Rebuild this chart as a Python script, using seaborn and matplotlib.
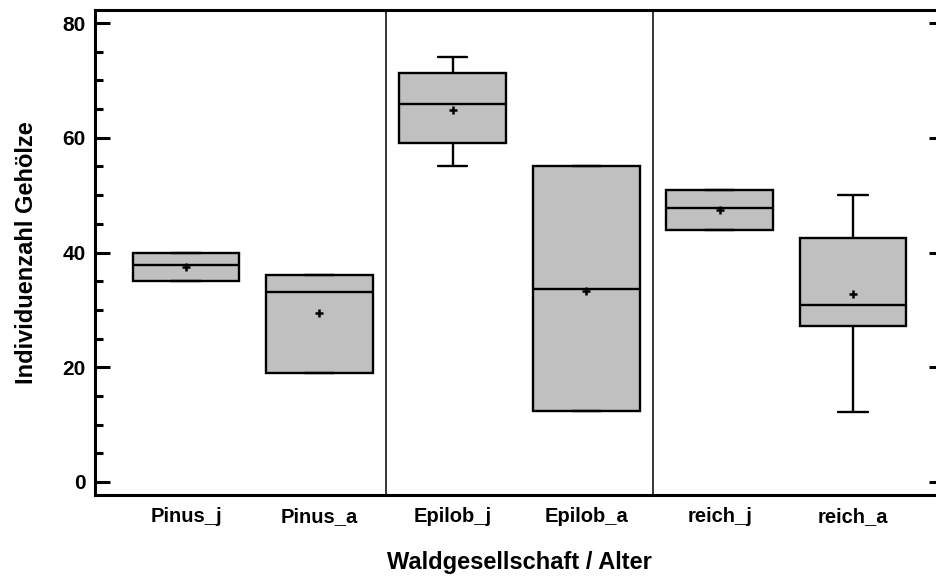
import numpy as np
import pandas as pd
import matplotlib
matplotlib.use('Agg')
import matplotlib.pyplot as plt
import matplotlib.ticker as ticker
import seaborn as sns

groups = ['Pinus_j', 'Pinus_a', 'Epilob_j', 'Epilob_a', 'reich_j', 'reich_a']
mins = [35, 19, 55, 12.3, 44, 12.2]
q1s = [35, 19, 59, 12.3, 44, 27.2]
medians = [37.8, 33.2, 65.9, 33.6, 47.7, 30.9]
q3s = [40, 36, 71.3, 55, 50.9, 42.6]
maxs = [40, 36, 74, 55, 50.9, 50]
means = [37.5, 29.4, 64.8, 33.3, 47.4, 32.7]

# five summary numbers per group -> quartiles come out exactly with linear percentiles
rows = []
for g, a, b, c, d, e in zip(groups, mins, q1s, medians, q3s, maxs):
    for v in (a, b, c, d, e):
        rows.append({'group': g, 'value': v})
df = pd.DataFrame(rows)
mean_df = pd.DataFrame({'group': groups, 'mean': means})

sns.set_style('white')
plt.rcParams['font.family'] = ['Liberation Sans', 'DejaVu Sans']
plt.rcParams['font.weight'] = 'bold'
for key in ('text.color', 'axes.labelcolor', 'xtick.color', 'ytick.color'):
    plt.rcParams[key] = 'black'

fig = plt.figure(figsize=(9.36, 5.77), dpi=100)
ax = fig.add_axes([95 / 936, 82 / 577, 849 / 936, 485 / 577])

sns.boxplot(data=df, x='group', y='value', order=groups, whis=np.inf,
            width=0.8, color='#c0c0c0', saturation=1, linecolor='black',
            linewidth=1.7, showfliers=False, capwidths=0.22, ax=ax)
sns.pointplot(data=mean_df, x='group', y='mean', order=groups, linestyle='none',
              markers='+', color='black', errorbar=None, markersize=5.5,
              markeredgewidth=1.8, ax=ax)

for xs in (1.5, 3.5):
    ax.axvline(xs, color='black', lw=1.1, zorder=0)

ax.set_xlim(-0.682, 5.682)
ax.set_ylim(-2.27, 82.27)
ax.yaxis.set_major_locator(ticker.MultipleLocator(20))
ax.yaxis.set_minor_locator(ticker.MultipleLocator(5))
ax.tick_params(axis='y', which='major', direction='in', length=11, width=2.2,
               left=True, right=True, labelsize=15, pad=6.5)
ax.tick_params(axis='y', which='minor', direction='in', length=5.5, width=2.2,
               left=True, right=False)
ax.tick_params(axis='x', length=0, labelsize=14.5, pad=9)
for lab in ax.get_xticklabels() + ax.get_yticklabels():
    lab.set_fontweight('bold')

for side in ('left', 'bottom', 'top'):
    ax.spines[side].set_linewidth(2.2)
    ax.spines[side].set_color('black')
ax.spines['right'].set_visible(False)

ax.set_xlabel('Waldgesellschaft / Alter', fontsize=17, fontweight='bold', labelpad=18)
ax.set_ylabel('Individuenzahl Gehölze', fontsize=17, fontweight='bold', labelpad=18)

fig.savefig('out.png', dpi=100)
